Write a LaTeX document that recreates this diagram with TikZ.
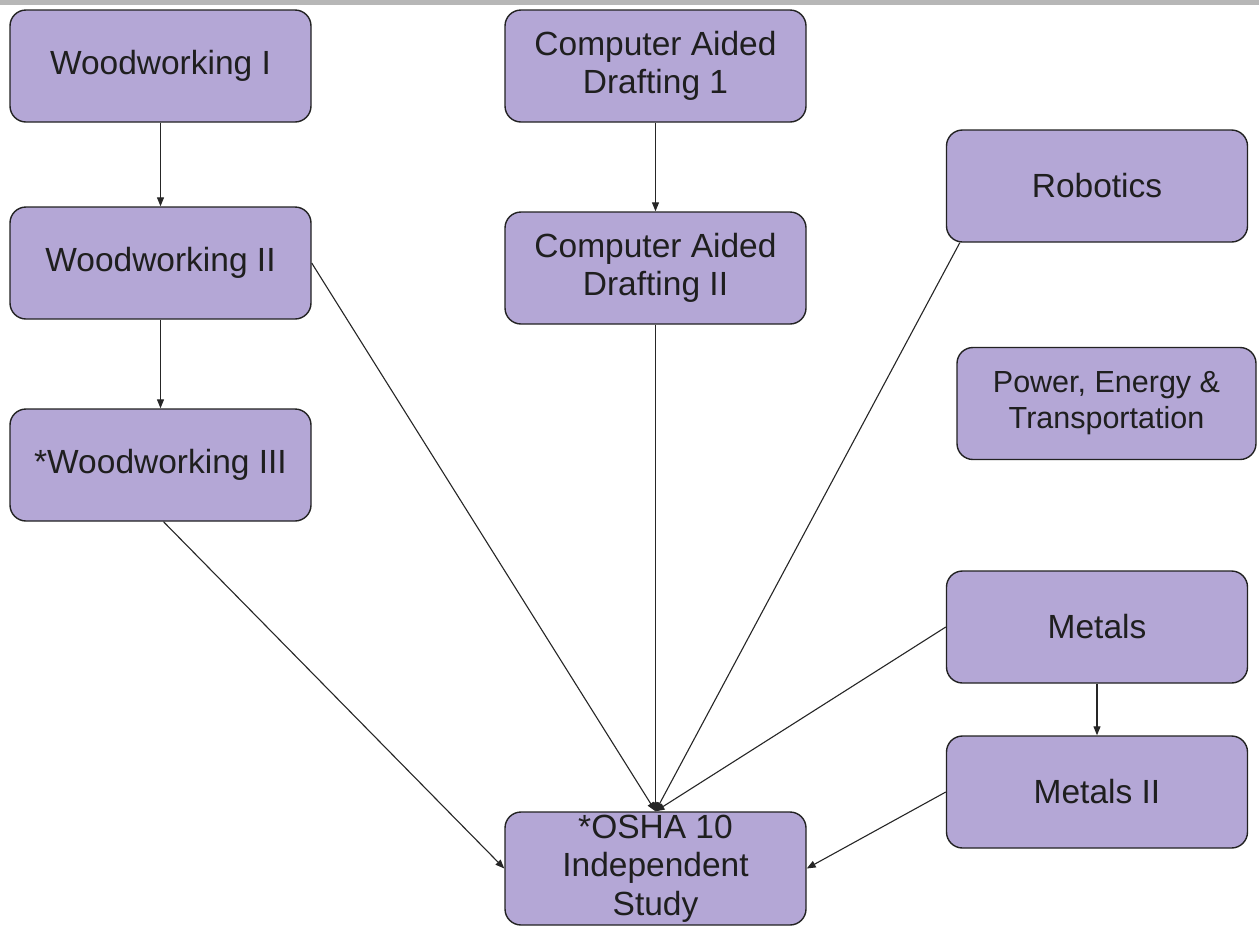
\documentclass[tikz,border=0pt]{standalone}
\usepackage{fontspec}
\setmainfont{Liberation Sans}
\usetikzlibrary{arrows.meta,calc}
\definecolor{boxfill}{HTML}{B4A7D6}
\definecolor{boxline}{HTML}{222222}
\definecolor{topbar}{HTML}{B7B7B7}
\begin{document}
\begin{tikzpicture}[x=1pt,y=-1pt,
  course/.style={draw=boxline,line width=1.4pt,fill=boxfill,rounded corners=16pt,
    minimum width=301pt,minimum height=112pt,inner sep=0pt,align=center,
    text=black!88,font=\fontsize{33.5}{38.5}\selectfont},
  link/.style={draw=black!85,line width=1.1pt,-{Triangle[length=9pt,width=7pt]}}]
\useasboundingbox (0,0) rectangle (1259,930);
\fill[white] (0,0) rectangle (1259,930);
\fill[topbar] (0,0) rectangle (1259,5);
\node[course] (w1) at (160.5,66) {Woodworking I};
\node[course] (w2) at (160.5,263) {Woodworking II};
\node[course] (w3) at (160.5,465) {*Woodworking III};
\node[course] (c1) at (655.5,66) {Computer Aided\\Drafting 1};
\node[course] (c2) at (655.5,268) {Computer Aided\\Drafting II};
\node[course] (rob) at (1097,186) {Robotics};
\node[course,minimum width=299pt,font=\fontsize{30.5}{36}\selectfont] (pet) at (1106.5,403.5) {Power, Energy \&\\Transportation};
\node[course] (met) at (1097,627) {Metals};
\node[course] (met2) at (1097,792) {Metals II};
\node[course,minimum height=113pt] (osha) at (655.5,868.5) {*OSHA 10\\Independent\\Study};
\coordinate (robfoot) at ($(rob.south west)+(14,0)$);
\coordinate (w3foot) at ($(w3.south)+(3,0)$);
\draw[link] (w1) -- (w2);
\draw[link] (w2) -- (w3);
\draw[link] (c1) -- (c2);
\draw[link] (met) -- (met2);
\draw[link] (w3foot) -- (osha.west);
\draw[link] (w2.east) -- (osha.north);
\draw[link] (c2) -- (osha.north);
\draw[link] (robfoot) -- (osha.north);
\draw[link] (met.west) -- (osha.north);
\draw[link] (met2.west) -- (osha.east);
\end{tikzpicture}
\end{document}
